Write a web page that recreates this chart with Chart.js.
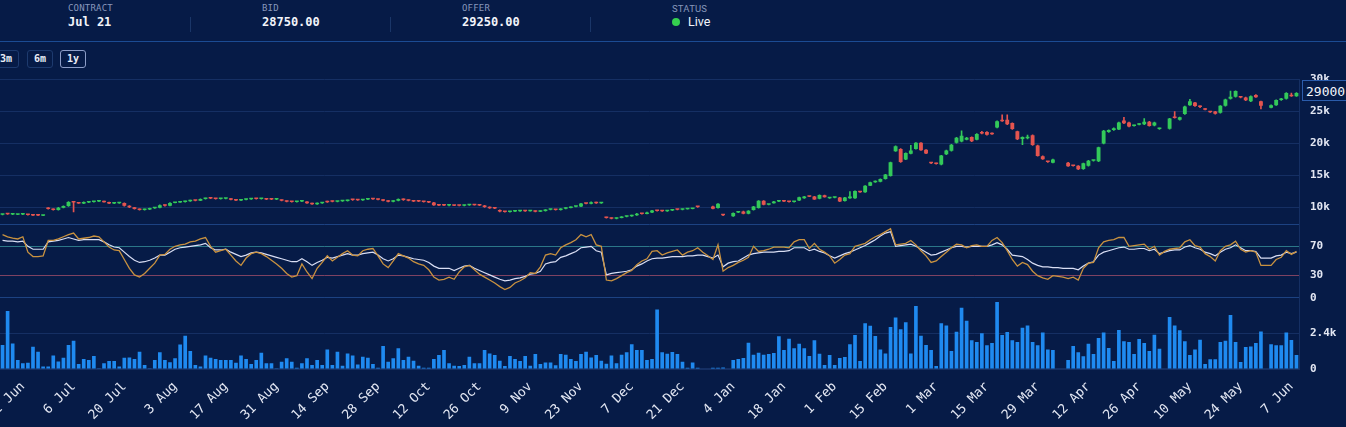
<!DOCTYPE html>
<html>
<head>
<meta charset="utf-8">
<script src="https://cdn.jsdelivr.net/npm/chart.js@4.4.1/dist/chart.umd.min.js"></script>
<style>
  html, body { margin:0; padding:0; background:#061b47; width:1346px; height:427px; overflow:hidden; }
  body { position:relative; font-family:'DejaVu Sans Mono', monospace; color:#fff; }
  .lbl { position:absolute; top:3px; font-size:9px; color:#8797bb; letter-spacing:0.2px; }
  .val { position:absolute; top:15px; font-size:12px; color:#f2f4fa; font-weight:bold; }
  .div { position:absolute; top:17px; width:1px; height:15px; background:#1a3668; }
  #hline { position:absolute; left:0; top:41px; width:1346px; height:1px; background:#1b4b93; }
  .btn { position:absolute; top:50px; height:16px; width:24px; border:1px solid #1d3a6e; border-radius:3px;
         font-size:10px; font-weight:bold; line-height:16px; text-align:center; color:#e9edf7; }
  #wrap { position:absolute; left:0; top:70px; width:1346px; height:357px; }
  #last { position:absolute; left:1302px; top:80px; width:50px; height:21px; border:1px solid #2b5cab;
          background:#061b47; font-size:13px; line-height:21px; color:#f4f6fb; padding-left:3px; box-sizing:border-box; }
</style>
</head>
<body>
  <div class="lbl" style="left:68px">CONTRACT</div>
  <div class="val" style="left:68px">Jul 21</div>
  <div class="div" style="left:190px"></div>
  <div class="lbl" style="left:262px">BID</div>
  <div class="val" style="left:262px">28750.00</div>
  <div class="div" style="left:390px"></div>
  <div class="lbl" style="left:462px">OFFER</div>
  <div class="val" style="left:462px">29250.00</div>
  <div class="div" style="left:590px"></div>
  <div class="lbl" style="left:672px;font-family:Roboto,sans-serif;font-size:9.5px">STATUS</div>
  <div style="position:absolute;left:672px;top:18px;width:8px;height:8px;border-radius:50%;background:#35d04f"></div>
  <div class="val" style="left:688px;top:14px;font-family:Roboto,sans-serif;font-size:12.5px;font-weight:normal">Live</div>
  <div id="hline"></div>
  <div class="btn" style="left:-7px">3m</div>
  <div class="btn" style="left:27px">6m</div>
  <div class="btn" style="left:60px;border-color:#8c9dc8">1y</div>
  <div id="wrap"><canvas id="c" width="1346" height="357"></canvas></div>
  <div id="last">29000</div>
<script>
// ---------- DATA ----------
const tickLabels = ['22 Jun','6 Jul','20 Jul','3 Aug','17 Aug','31 Aug','14 Sep','28 Sep','12 Oct','26 Oct','9 Nov','23 Nov','7 Dec','21 Dec','4 Jan','18 Jan','1 Feb','15 Feb','1 Mar','15 Mar','29 Mar','12 Apr','26 Apr','10 May','24 May','7 Jun'];
const priceTicks = [10000,15000,20000,25000,30000];
const priceTickLabels = ['10k','15k','20k','25k','30k'];
const rsiTicks = [0,30,70,100];
const rsiTickLabels = ['0','30','70',''];
const volTicks = [0,2400,4800];
const volTickLabels = ['0','2.4k',''];

// trading days (weekdays) 16 Jun 2020 .. 8 Jun 2021
const MONTHS = ['Jan','Feb','Mar','Apr','May','Jun','Jul','Aug','Sep','Oct','Nov','Dec'];
const dates = [];
for (let d = new Date(Date.UTC(2020,5,16)); d <= new Date(Date.UTC(2021,5,8)); d.setUTCDate(d.getUTCDate()+1)) {
  const wd = d.getUTCDay();
  if (wd === 0 || wd === 6) continue;
  dates.push(d.getUTCDate() + ' ' + MONTHS[d.getUTCMonth()]);
}

// [open, high, low, close]
const ohlc = [
[8840,8900,8820,8880],[8980,9010,8900,8920],[8880,8920,8860,8900],[8860,8900,8840,8880],[8880,8960,8870,8950],[8900,8920,8780,8800],[8780,8800,8700,8720],[8740,8760,8700,8720],[8700,8760,8690,8740],[9900,9950,9700,9750],
[9750,9780,9550,9600],[9600,10000,9580,9950],[9950,10250,9900,10200],[10200,10900,10150,10850],[10800,10850,9300,10750],[10700,10720,10600,10620],[10600,10850,10580,10800],[10780,10850,10750,10830],[10830,10920,10800,10900],[10900,10980,10880,10950],
[10950,10970,10800,10820],[10800,10820,10580,10600],[10600,10680,10580,10650],[10650,10700,10620,10680],[10680,10700,10200,10250],[10250,10280,9950,10000],[10000,10020,9700,9750],[9750,9780,9550,9600],[9600,9720,9580,9680],[9680,9900,9650,9850],
[9850,10000,9830,9950],[9950,10400,9930,10350],[10350,10380,10200,10250],[10250,10750,10230,10700],[10700,10800,10680,10780],[10780,10900,10760,10850],[10850,10980,10830,10950],[10950,11150,10930,11100],[11100,11120,11000,11050],[11050,11350,11030,11300],
[11300,11450,11280,11420],[11420,11450,11350,11380],[11380,11400,11280,11300],[11300,11380,11280,11350],[11350,11400,11320,11380],[11350,11370,11150,11180],[11180,11200,11050,11080],[11080,11200,11060,11180],[11180,11300,11150,11280],[11280,11380,11250,11350],
[11350,11380,11300,11320],[11320,11400,11300,11380],[11380,11400,11200,11250],[11250,11280,11200,11220],[11220,11250,11200,11230],[11150,11170,11000,11020],[11020,11040,10850,10880],[10880,10900,10820,10850],[10850,10950,10830,10920],[10920,11000,10900,10980],
[10900,10920,10600,10650],[10650,10680,10480,10500],[10500,10700,10480,10650],[10650,10800,10630,10780],[10950,10980,10780,10820],[10950,11000,10850,10880],[10880,10960,10860,10940],[10940,11020,10920,11000],[11000,11150,10980,11120],[11200,11250,11100,11150],
[11150,11180,11080,11100],[11100,11250,11080,11230],[11230,11330,11200,11300],[11300,11330,11250,11270],[11270,11290,11180,11200],[11200,11220,11020,11050],[11050,11070,10850,10880],[10880,11050,10860,11020],[11020,11350,11000,11300],[11300,11320,11100,11150],
[11150,11170,11020,11050],[11050,11070,10900,10930],[10930,10960,10880,10900],[10900,10920,10820,10850],[10850,10870,10750,10780],[10780,10800,10300,10350],[10350,10380,10280,10300],[10320,10350,10250,10280],[10280,10320,10220,10300],[10300,10320,10250,10270],
[10270,10290,10230,10250],[10250,10360,10240,10340],[10340,10420,10320,10400],[10400,10410,10330,10350],[10350,10370,10280,10300],[10300,10320,10000,10050],[10050,10070,9850,9880],[9880,9900,9800,9820],[9600,9620,9300,9350],[9350,9380,9250,9280],
[9280,9360,9260,9340],[9340,9420,9320,9400],[9400,9460,9380,9440],[9440,9460,9380,9400],[9400,9470,9390,9450],[9450,9470,9300,9330],[9330,9450,9310,9430],[9430,9650,9420,9620],[9620,9680,9600,9660],[9660,9680,9580,9600],
[9600,9800,9580,9780],[9780,9950,9760,9920],[9920,10100,9900,10080],[10080,10150,10060,10120],[10120,10650,10100,10600],[10600,10640,10540,10560],[10560,10850,10540,10820],[10820,10840,10600,10650],[10650,10760,10630,10720],[8450,8480,8300,8330],
[8330,8350,8180,8220],[8220,8380,8200,8350],[8350,8560,8330,8520],[8520,8620,8500,8600],[8600,8780,8580,8750],[8750,9050,8730,9000],[9000,9050,8950,8980],[8980,9250,8960,9200],[9200,9550,9180,9500],[9500,9540,9400,9430],
[9430,9460,9350,9380],[9380,9550,9360,9520],[9520,9700,9500,9680],[9680,9700,9600,9630],[9630,9750,9610,9720],[9720,9780,9700,9760],[9760,9860,9740,9840],[10100,10150,10000,10050],null,null,
[10150,10200,9750,9790],[9890,10600,9870,10570],[8800,8850,8720,8750],null,[8600,9150,8580,9110],[9200,9290,9180,9260],[9370,9400,8980,9010],[9010,9500,8990,9480],[9600,10180,9580,10150],[9890,11050,9870,11030],
[11030,11060,10380,10410],[10400,10450,10380,10420],[10660,10950,10640,10920],[10900,10980,10880,10950],[10950,10970,10880,10900],[10880,10900,10830,10850],[10850,10960,10830,10940],[11080,11610,11060,11590],[11430,11720,11410,11700],[11720,11740,11660,11680],
[11700,11720,11230,11250],[11340,11970,11320,11950],[11900,11920,11580,11600],[11430,11520,11410,11500],[11500,11610,11480,11590],[11540,11560,10900,10920],[11000,11560,10980,11540],[11430,12470,11410,11700],[11430,12600,11410,12580],[12400,12420,12340,12366],
[12370,13420,12350,13400],[13400,13940,13380,13920],[13920,14150,13900,14130],[14000,14460,13980,14440],[14440,15180,14420,15160],[14900,17100,14880,17080],[18800,19650,18750,19560],[19150,19200,17050,17100],[17500,18550,17450,18500],[18400,19700,18350,18900],
[19150,20150,19100,20100],[20100,20150,18900,18950],[19000,19050,18400,18450],[17000,17050,16850,16900],[16900,16950,16750,16800],[16700,18150,16650,18100],[18300,18950,18250,18900],[18850,19850,18800,19800],[20100,20950,20050,20900],[20300,22000,20250,21200],
[20600,20950,20550,20900],[21000,21050,20300,20350],[20600,21550,20550,21500],[21800,21900,21500,21550],[21800,21850,21300,21350],[21600,21650,21400,21450],[22500,23550,22450,23500],[23700,24500,23450,23500],[23700,24500,22950,23000],[23200,23250,22200,22250],
[21900,21950,20600,20650],[20700,21050,19800,21000],[20800,21300,20700,21000],[21300,21350,19700,19750],[19700,19750,18000,18050],[18000,18050,17500,17550],[17150,17200,17050,17100],[17000,17550,16950,17500],null,null,
[17000,17050,16400,16450],[16550,16600,16450,16480],[16500,16550,15900,15950],[16000,16950,15950,16900],[16500,17350,16450,17300],[17300,17380,17250,17320],[17200,19450,17150,19400],[20000,22050,19950,22000],[21800,22150,21750,22100],[22100,22450,22050,22400],
[22200,23350,22150,23300],[23600,24100,23100,23150],[23300,23350,22600,22650],[22750,22900,22700,22850],[22950,23100,22900,23050],[23000,23900,22950,23400],[23400,23450,22700,22750],[22800,23350,22750,23300],[22250,22400,22200,22350],null,
[22300,23950,22250,23900],[24100,25000,23950,24000],[23700,24150,23650,24100],[24600,25850,24550,25800],[26000,26900,25950,26600],[26400,26450,25800,25850],[25750,25900,25600,25700],[25400,25450,25250,25300],[25000,25050,24850,24900],[25000,25050,24600,24650],
[24800,25950,24750,25900],[25900,26950,25850,26900],[27000,28200,26950,27300],[27300,28250,27250,28200],[27300,27350,27150,27200],[27200,27250,26700,26750],[26600,27450,26550,27400],[27600,27650,27200,27250],[26600,26650,25400,25900],null,
[25600,26050,25550,26000],[26000,26850,25950,26800],[26800,27050,26750,27000],[27000,27950,26950,27900],[27600,27900,27350,27400],[27400,27950,27350,27900]
];

// oscillator: fast (orange) and slow (white)
const rsiFast = [
86,83,81,80,83,62,56,56,57,78, 78,80,83,86,88,80,81,82,84,83,
76,69,65,64,52,40,31,28,33,40, 47,58,59,66,70,72,73,76,77,80,
82,70,62,64,66,58,50,44,54,60, 62,60,56,51,46,40,33,28,30,46,
35,26,40,48,57,50,55,60,64,58, 57,64,66,67,57,46,41,50,60,57,
54,49,46,44,38,28,24,25,28,25, 35,42,44,38,32,28,24,20,15,11,
14,20,23,27,34,33,42,58,60,58, 68,72,75,79,86,83,86,72,70,24,
23,26,30,34,37,45,50,53,63,64, 58,61,63,65,58,62,64,68,62,57,
52,72,36,41,44,48,51,55,70,63, 64,66,69,69,69,68,76,79,79,67,
74,66,62,57,47,52,58,60,70,72, 74,79,83,86,90,94,72,73,74,78,
72,64,57,48,50,56,62,68,73,72, 68,71,72,70,70,78,82,75,64,52,
43,48,45,36,30,27,25,30,29,28, 26,28,24,40,47,48,68,76,78,79,
82,82,70,71,72,73,66,70,58,63, 66,67,68,76,79,71,69,60,56,50,
64,70,72,77,66,62,64,62,44,44, 44,52,55,64,59,63
];
const rsiSlow = [
78,77,77,76,77,70,66,66,66,76, 77,78,80,82,80,78,79,79,79,79,
76,72,69,68,62,56,51,48,49,51, 54,58,58,62,66,68,69,70,71,72,
74,68,65,65,66,62,59,56,58,61, 62,61,59,57,55,53,51,49,49,53,
49,44,48,51,55,54,56,58,60,58, 58,60,61,62,58,53,50,53,58,57,
55,53,52,51,48,43,40,40,40,37, 40,43,44,40,37,34,31,28,25,23,
24,26,27,29,32,33,36,46,48,49, 55,57,60,63,68,69,70,64,62,31,
33,34,35,36,38,43,46,50,53,54, 54,55,56,56,56,57,57,58,58,56,
54,58,42,47,49,50,54,58,60,61, 62,62,62,63,63,64,68,68,68,64,
66,63,61,57,54,57,60,62,65,68, 71,75,79,84,88,90,70,71,72,73,
70,66,62,58,59,62,65,68,70,70, 69,70,70,70,70,72,75,72,66,58,
57,56,52,47,44,42,42,41,41,40, 40,40,38,43,47,49,58,62,64,66,
68,69,66,66,67,67,64,66,60,62, 64,65,65,69,71,68,66,62,60,57,
62,66,68,72,68,64,64,63,54,54, 54,57,58,62,60,62
];

const volume = [
1610,3900,1720,600,380,420,1500,1160,160,160,
900,500,760,1610,1900,330,670,600,870,50,
380,540,540,160,760,780,670,1160,270,50,
600,1120,600,450,720,1650,2240,1210,270,160,
900,760,670,600,600,600,420,900,670,330,
600,1100,380,380,50,490,720,490,90,380,
720,270,600,270,1320,270,1160,220,1050,900,
310,830,760,340,90,1550,490,720,1390,600,
830,560,220,90,90,670,940,1280,380,220,
200,270,830,380,380,1280,1050,940,560,200,
870,670,540,870,220,1010,340,430,430,250,
1010,960,670,540,1010,1160,780,940,560,360,
900,380,960,1120,1660,1280,1280,600,670,4010,
1120,1030,1140,1010,490,90,430,90,null,null,
80,80,100,null,600,670,740,1770,960,1100,
960,1010,1080,2200,1280,2040,1390,1700,1390,870,
1930,1030,270,940,270,740,810,1660,2280,540,
3070,2910,2220,1320,1050,2820,3470,2670,3140,1050,
4230,2240,1610,1280,200,3070,2930,1210,2510,4120,
3250,1930,1810,2400,1590,1750,4500,2280,2490,1930,
1810,2780,2930,1810,1590,2460,1320,1280,null,null,
600,1550,1120,850,1700,1010,2080,2460,1410,540,
2620,1860,1810,1010,2020,1750,1210,2310,1370,null,
3490,2930,2600,1860,940,1320,1970,340,650,650,
1810,1900,3630,1810,470,1480,1520,1750,2530,null,
1660,1590,1590,2460,1950,940
];

// ---------- STYLE ----------
const UP = '#33c95a', DOWN = '#e4544f';
const GRID = '#152f63', SEP = '#1c4282';
const TXT = '#e3e7f3';
const FONT = { family: 'DejaVu Sans Mono', size: 11, weight: 'bold' };
const candleColor = (ctx) => { const c = ohlc[ctx.dataIndex]; return c && c[3] >= c[0] ? UP : DOWN; };

function fixedTicks(values) { return (s) => { s.ticks = values.map(v => ({ value: v })); }; }
function labelFrom(values, labels) { return (v) => { const k = values.indexOf(v); return k >= 0 ? labels[k] : ''; }; }
const yWidth = (s) => { s.width = 47; };

new Chart(document.getElementById('c'), {
  data: {
    labels: dates,
    datasets: [
      { type:'bar', label:'wick', yAxisID:'yPrice', order:3,
        data: ohlc.map(c => c ? [c[2], c[1]] : null),
        backgroundColor: candleColor, barThickness: 1, grouped:false },
      { type:'bar', label:'body', yAxisID:'yPrice', order:2,
        data: ohlc.map(c => c ? [c[0], c[3]] : null),
        backgroundColor: candleColor, barPercentage: 0.76, categoryPercentage: 1, minBarLength: 1.5, grouped:false },
      { type:'line', label:'slow', yAxisID:'yRsi', order:1, data: rsiSlow,
        borderColor:'#d9def4', borderWidth:1.2, pointRadius:0, tension:0 },
      { type:'line', label:'fast', yAxisID:'yRsi', order:0, data: rsiFast,
        borderColor:'#c99240', borderWidth:1.3, pointRadius:0, tension:0 },
      { type:'bar', label:'volume', yAxisID:'yVol', order:4, data: volume,
        backgroundColor:'#1f8af0', barPercentage:0.72, categoryPercentage:1, grouped:false }
    ]
  },
  options: {
    responsive:false, animation:false, events:[],
    layout: { padding: { top:7, left:0, right:0, bottom:0 } },
    plugins: { legend:{ display:false }, tooltip:{ enabled:false } },
    scales: {
      x: {
        type:'category', offset:true,
        grid:{ display:false }, border:{ display:true, color:GRID },
        ticks:{ autoSkip:false, minRotation:45, maxRotation:45, color:TXT, padding:2,
                font:{ family:'DejaVu Sans Mono', size:13 },
                callback: function(v, i) { const l = dates[i]; return tickLabels.includes(l) ? l : ''; } },
        afterFit: (s) => { s.height = 58; s.paddingLeft = 0; s.paddingRight = 0; }
      },
      yPrice: {
        position:'right', stack:'panes', stackWeight:146, min:7350, max:30000,
        afterBuildTicks: fixedTicks(priceTicks),
        ticks:{ autoSkip:false, color:TXT, font:FONT, callback: labelFrom(priceTicks, priceTickLabels) },
        grid:{ color:GRID, tickColor:'rgba(0,0,0,0)' }, border:{ color:GRID },
        afterFit: yWidth
      },
      yRsi: {
        position:'right', stack:'panes', stackWeight:74, min:0, max:100,
        afterBuildTicks: fixedTicks(rsiTicks),
        ticks:{ autoSkip:false, color:TXT, font:FONT, callback: labelFrom(rsiTicks, rsiTickLabels) },
        grid:{ tickColor:'rgba(0,0,0,0)',
               color: (ctx) => { const v = ctx.tick && ctx.tick.value; return v === 70 ? '#2b7788' : v === 30 ? '#7e4262' : SEP; } },
        border:{ color:GRID },
        afterFit: yWidth
      },
      yVol: {
        position:'right', stack:'panes', stackWeight:72, min:0, max:4800,
        afterBuildTicks: fixedTicks(volTicks),
        ticks:{ autoSkip:false, color:TXT, font:FONT, callback: labelFrom(volTicks, volTickLabels) },
        grid:{ tickColor:'rgba(0,0,0,0)', color: (ctx) => (ctx.tick && ctx.tick.value === 4800) ? SEP : GRID },
        border:{ color:GRID },
        afterFit: yWidth
      }
    }
  }
});
</script>
</body>
</html>
